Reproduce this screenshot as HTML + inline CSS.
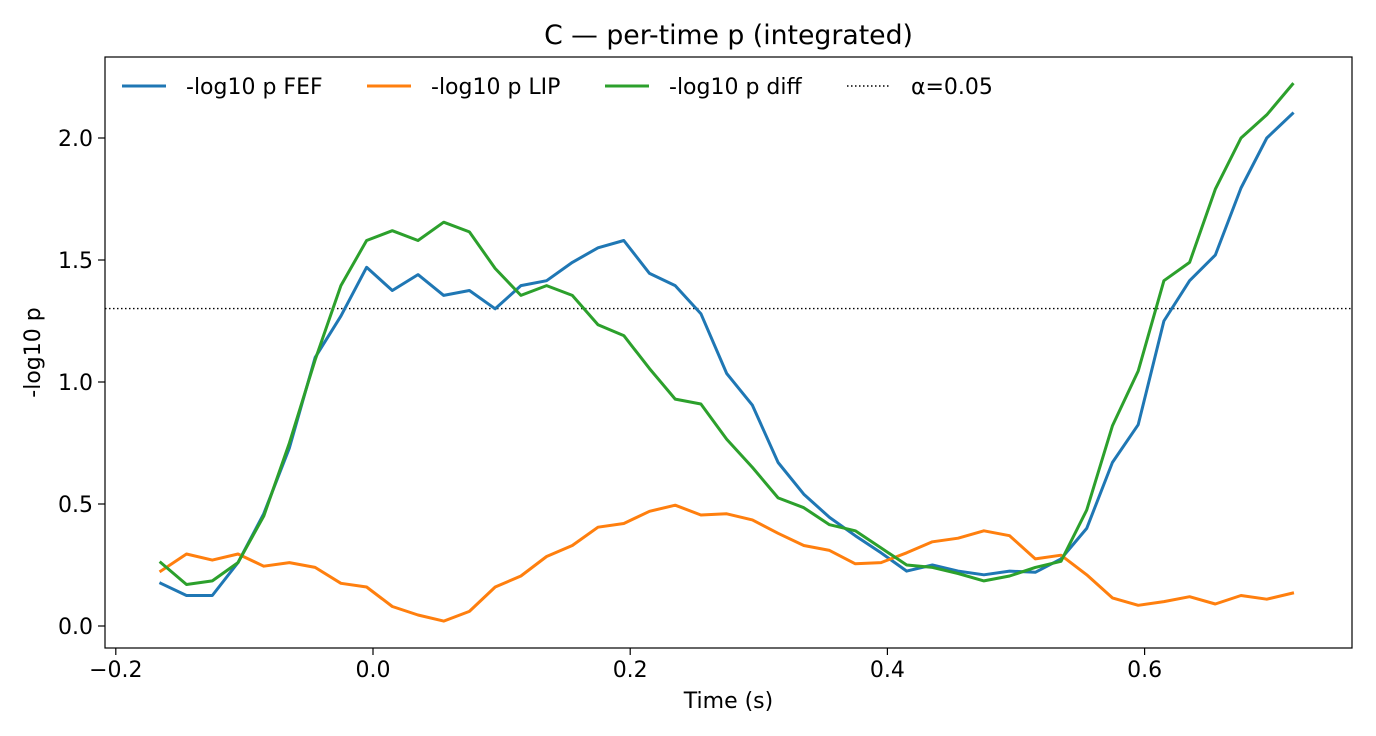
<!DOCTYPE html>
<html><head><meta charset="utf-8">
<style>
html,body{margin:0;padding:0;background:#fff;}
svg{display:block;font-family:"DejaVu Sans","Liberation Sans",sans-serif;}
</style></head>
<body>
<svg id="chart" width="1376" height="736" viewBox="0 0 1376 736"></svg>
<script>
const times = [];
for (let i = 0; i < 45; i++) times.push(-0.165 + 0.02 * i);
const fef = [0.175,0.125,0.125,0.26,0.46,0.73,1.1,1.27,1.47,1.375,1.44,1.355,1.375,1.3,1.395,1.415,1.49,1.55,1.58,1.445,1.395,1.28,1.035,0.905,0.67,0.54,0.445,0.37,0.3,0.225,0.25,0.225,0.21,0.225,0.22,0.275,0.4,0.67,0.825,1.25,1.415,1.52,1.795,2.0,2.1];
const lip = [0.225,0.295,0.27,0.295,0.245,0.26,0.24,0.175,0.16,0.08,0.045,0.02,0.06,0.16,0.205,0.285,0.33,0.405,0.42,0.47,0.495,0.455,0.46,0.435,0.38,0.33,0.31,0.255,0.26,0.3,0.345,0.36,0.39,0.37,0.275,0.29,0.21,0.115,0.085,0.1,0.12,0.09,0.125,0.11,0.135];
const diff = [0.26,0.17,0.185,0.26,0.45,0.75,1.09,1.395,1.58,1.62,1.58,1.655,1.615,1.465,1.355,1.395,1.355,1.235,1.19,1.055,0.93,0.91,0.765,0.65,0.525,0.485,0.415,0.39,0.32,0.25,0.24,0.215,0.185,0.205,0.24,0.265,0.475,0.82,1.045,1.415,1.49,1.79,2.0,2.095,2.22];
const xTicks = [-0.2,0.0,0.2,0.4,0.6];
const xTickLabels = ["\u22120.2","0.0","0.2","0.4","0.6"];
const yTicks = [0.0,0.5,1.0,1.5,2.0];
const yTickLabels = ["0.0","0.5","1.0","1.5","2.0"];
const alphaLine = 1.30103;

const NS = "http://www.w3.org/2000/svg";
const svg = document.getElementById('chart');
const L=105,R=1352,T=57,B=648;
function xs(t){return 373 + t*1286;}
function ys(v){return 626 - v*244;}
function mk(tag, attrs, parent){const e=document.createElementNS(NS,tag);for(const k in attrs)e.setAttribute(k,attrs[k]);(parent||svg).appendChild(e);return e;}

const title = mk('text',{x:(L+R)/2,y:44,'text-anchor':'middle','font-size':'26.7'});
title.textContent = "C \u2014 per-time p (integrated)";



const al = mk('line',{x1:L,x2:R,y1:ys(alphaLine),y2:ys(alphaLine),stroke:'#000','stroke-width':1.4,'stroke-dasharray':'1.5,2.5'});



function series(vals,color,name){
  const d = vals.map((v,i)=>(i?'L':'M')+xs(times[i]).toFixed(1)+','+ys(v).toFixed(1)).join(' ');
  const p = mk('path',{d:d,fill:'none',stroke:color,'stroke-width':3,'stroke-linejoin':'round','stroke-linecap':'square'});
  
  
}
series(fef,'#1f77b4','series-fef');
series(lip,'#ff7f0e','series-lip');
series(diff,'#2ca02c','series-diff');

const fr = mk('rect',{x:L,y:T,width:R-L,height:B-T,fill:'none',stroke:'#000','stroke-width':1.2});



xTicks.forEach((t,i)=>{
  const x=xs(t);
  const tk = mk('line',{x1:x,x2:x,y1:B,y2:B+7,stroke:'#000','stroke-width':1.2});
  
  
  const lb = mk('text',{x:x,y:B+29,'text-anchor':'middle','font-size':'22'});
  lb.textContent = xTickLabels[i];
  
  
});
yTicks.forEach((v,i)=>{
  const y=ys(v);
  const tk = mk('line',{x1:L-7,x2:L,y1:y,y2:y,stroke:'#000','stroke-width':1.2});
  
  
  const lb = mk('text',{x:L-12,y:y+8,'text-anchor':'end','font-size':'22'});
  lb.textContent = yTickLabels[i];
  
  
});
const xt = mk('text',{x:(L+R)/2,y:708,'text-anchor':'middle','font-size':'22'});
xt.textContent='Time (s)';


const yt = mk('text',{x:40,y:(T+B)/2,'text-anchor':'middle','font-size':'22',transform:'rotate(-90 40 '+((T+B)/2)+')'});
yt.textContent='-log10 p';



const legendItems = [
  {label:'-log10 p FEF',color:'#1f77b4',x:122,tx:186,dash:null},
  {label:'-log10 p LIP',color:'#ff7f0e',x:367,tx:431,dash:null},
  {label:'-log10 p diff',color:'#2ca02c',x:605,tx:669,dash:null},
  {label:'\u03b1=0.05',color:'#000',x:847,tx:911,dash:'1.5,2.5'}
];
legendItems.forEach(it=>{
  const g = mk('g',{});
  
  
  mk('line',{x1:it.x,x2:it.x+44,y1:86,y2:86,stroke:it.color,'stroke-width':it.dash?1.4:3,'stroke-dasharray':it.dash||'none'},g);
  const t = mk('text',{x:it.tx,y:94,'font-size':'22'},g);
  t.textContent = it.label;
});
</script>
</body></html>
